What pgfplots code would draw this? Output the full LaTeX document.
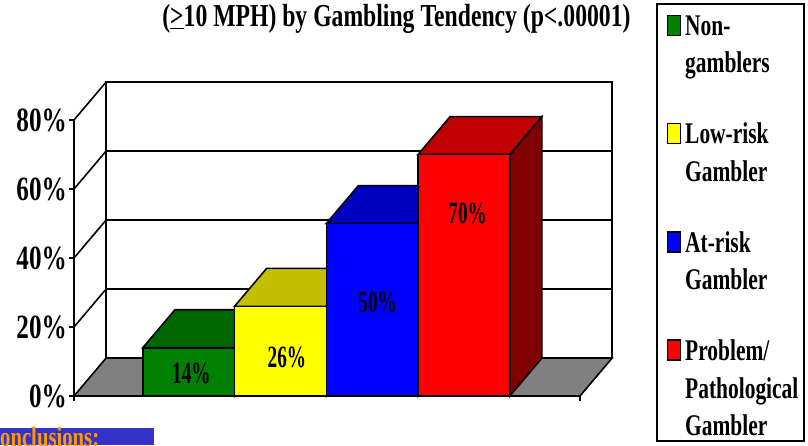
\documentclass[border=0pt]{standalone}
\usepackage{fontspec}
\setmainfont{Liberation Serif}[FakeStretch=0.74]
\newfontfamily\lblfont{Liberation Serif}[FakeStretch=0.62]
\newfontfamily\legfont{Liberation Serif}[FakeStretch=0.715]
\usepackage{pgfplots}
\pgfplotsset{compat=1.18}
\definecolor{gfront}{RGB}{0,128,0}
\definecolor{gtop}{RGB}{0,102,0}
\definecolor{gside}{RGB}{0,64,0}
\definecolor{yfront}{RGB}{255,255,0}
\definecolor{ytop}{RGB}{196,192,0}
\definecolor{yside}{RGB}{128,128,0}
\definecolor{bfront}{RGB}{0,0,255}
\definecolor{btop}{RGB}{0,0,192}
\definecolor{bside}{RGB}{0,0,128}
\definecolor{rfront}{RGB}{255,0,0}
\definecolor{rtop}{RGB}{192,0,0}
\definecolor{rside}{RGB}{128,0,0}
\definecolor{floorgray}{RGB}{128,128,128}
\definecolor{conblue}{RGB}{51,51,204}
\definecolor{conorange}{RGB}{255,153,0}
\begin{document}
\begin{tikzpicture}
\path[use as bounding box] (0pt,0pt) rectangle (808pt,-445pt);
\clip (0pt,0pt) rectangle (808pt,-445pt);
\begin{axis}[
  at={(74pt,-396pt)}, anchor=south west,
  x=91.75pt, y=3.45pt,
  xmin=-1.25, xmax=4.265, ymin=0, ymax=80,
  enlargelimits=false, clip=false,
  axis x line*=bottom, axis y line*=left,
  axis line style={-, line width=1.6pt, black},
  tick align=outside, major tick length=5pt,
  tick style={line width=1.6pt, black},
  xtick={-1.25,4.265}, xticklabels={},
  ytick={0,20,40,60,80}, yticklabels={0\%,20\%,40\%,60\%,80\%},
  yticklabel style={font=\fontsize{34}{34}\selectfont\bfseries, inner sep=2pt},
  every axis plot/.append style={line width=1.6pt},
]
% back wall and grid
\draw[line width=1.6pt] (axis cs:-0.9,11) rectangle (axis cs:4.615,91);
\draw[line width=1.6pt] (axis cs:-0.9,31) -- (axis cs:4.615,31);
\draw[line width=1.6pt] (axis cs:-0.9,51) -- (axis cs:4.615,51);
\draw[line width=1.6pt] (axis cs:-0.9,71) -- (axis cs:4.615,71);
\draw[line width=1.6pt] (axis cs:-1.25,20) -- (axis cs:-0.9,31);
\draw[line width=1.6pt] (axis cs:-1.25,40) -- (axis cs:-0.9,51);
\draw[line width=1.6pt] (axis cs:-1.25,60) -- (axis cs:-0.9,71);
\draw[line width=1.6pt] (axis cs:-1.25,80) -- (axis cs:-0.9,91);
\draw[line width=1.6pt] (axis cs:-1.25,0) -- (axis cs:-1.25,80);
% floor
\addplot[fill=floorgray, draw=black] coordinates {(-1.25,0) (4.265,0) (4.615,11) (-0.9,11)} -- cycle;
% Non-gamblers 14
\addplot[fill=gside, draw=black] coordinates {(0.5,0) (0.85,11) (0.85,25) (0.5,14)} -- cycle;
\addplot[fill=gtop, draw=black] coordinates {(-0.5,14) (0.5,14) (0.85,25) (-0.15,25)} -- cycle;
\addplot[ybar, bar width=1, bar shift=0pt, fill=gfront, draw=black] coordinates {(0,14)};
% Low-risk 26
\addplot[fill=yside, draw=black] coordinates {(1.5,0) (1.85,11) (1.85,37) (1.5,26)} -- cycle;
\addplot[fill=ytop, draw=black] coordinates {(0.5,26) (1.5,26) (1.85,37) (0.85,37)} -- cycle;
\addplot[ybar, bar width=1, bar shift=0pt, fill=yfront, draw=black] coordinates {(1,26)};
% At-risk 50
\addplot[fill=bside, draw=black] coordinates {(2.5,0) (2.85,11) (2.85,61) (2.5,50)} -- cycle;
\addplot[fill=btop, draw=black] coordinates {(1.5,50) (2.5,50) (2.85,61) (1.85,61)} -- cycle;
\addplot[ybar, bar width=1, bar shift=0pt, fill=bfront, draw=black] coordinates {(2,50)};
% Problem 70
\addplot[fill=rside, draw=black] coordinates {(3.5,0) (3.85,11) (3.85,81) (3.5,70)} -- cycle;
\addplot[fill=rtop, draw=black] coordinates {(2.5,70) (3.5,70) (3.85,81) (2.85,81)} -- cycle;
\addplot[ybar, bar width=1, bar shift=0pt, fill=rfront, draw=black] coordinates {(3,70)};
% data labels
\node[font=\lblfont\fontsize{31}{31}\selectfont\bfseries] at (axis cs:0.03,6.5) {14\%};
\node[font=\lblfont\fontsize{31}{31}\selectfont\bfseries] at (axis cs:1.07,11.2) {26\%};
\node[font=\lblfont\fontsize{31}{31}\selectfont\bfseries] at (axis cs:2.06,27.2) {50\%};
\node[font=\lblfont\fontsize{31}{31}\selectfont\bfseries] at (axis cs:3.04,52.8) {70\%};
\end{axis}
% title
\node[anchor=base, inner sep=0pt, font=\fontsize{32}{32}\selectfont\bfseries] at (396.4pt,-26.7pt) {(\underline{>}10 MPH) by Gambling Tendency (p<.00001)};
% legend
\draw[line width=1.6pt] (657pt,-4pt) rectangle (804pt,-441pt);
\begin{scope}[every node/.style={anchor=base west, inner sep=0pt, font=\legfont\fontsize{30}{30}\selectfont\bfseries}]
\draw[fill=gfront, line width=1.4pt] (667.5pt,-15.5pt) rectangle (680.5pt,-35.5pt);
\node at (685pt,-35pt) {Non-};
\node at (685pt,-72pt) {gamblers};
\draw[fill=yfront, line width=1.4pt] (667.5pt,-123.5pt) rectangle (680.5pt,-143.5pt);
\node at (685pt,-143pt) {Low-risk};
\node at (685pt,-181pt) {Gambler};
\draw[fill=bfront, line width=1.4pt] (667.5pt,-232pt) rectangle (680.5pt,-252pt);
\node at (685pt,-252pt) {At-risk};
\node at (685pt,-289pt) {Gambler};
\draw[fill=rfront, line width=1.4pt] (667.5pt,-340pt) rectangle (680.5pt,-360pt);
\node at (685pt,-360pt) {Problem/};
\node at (685pt,-398pt) {Pathological};
\node at (685pt,-435pt) {Gambler};
\end{scope}
% conclusions strip (cut off at the bottom edge, as in the reference)
\fill[conblue] (0pt,-427.7pt) rectangle (154pt,-445pt);
\node[anchor=base west, inner sep=0pt, text=conorange, font=\fontsize{28}{28}\selectfont\bfseries] at (-15pt,-446pt) {Conclusions:};
\end{tikzpicture}
\end{document}
